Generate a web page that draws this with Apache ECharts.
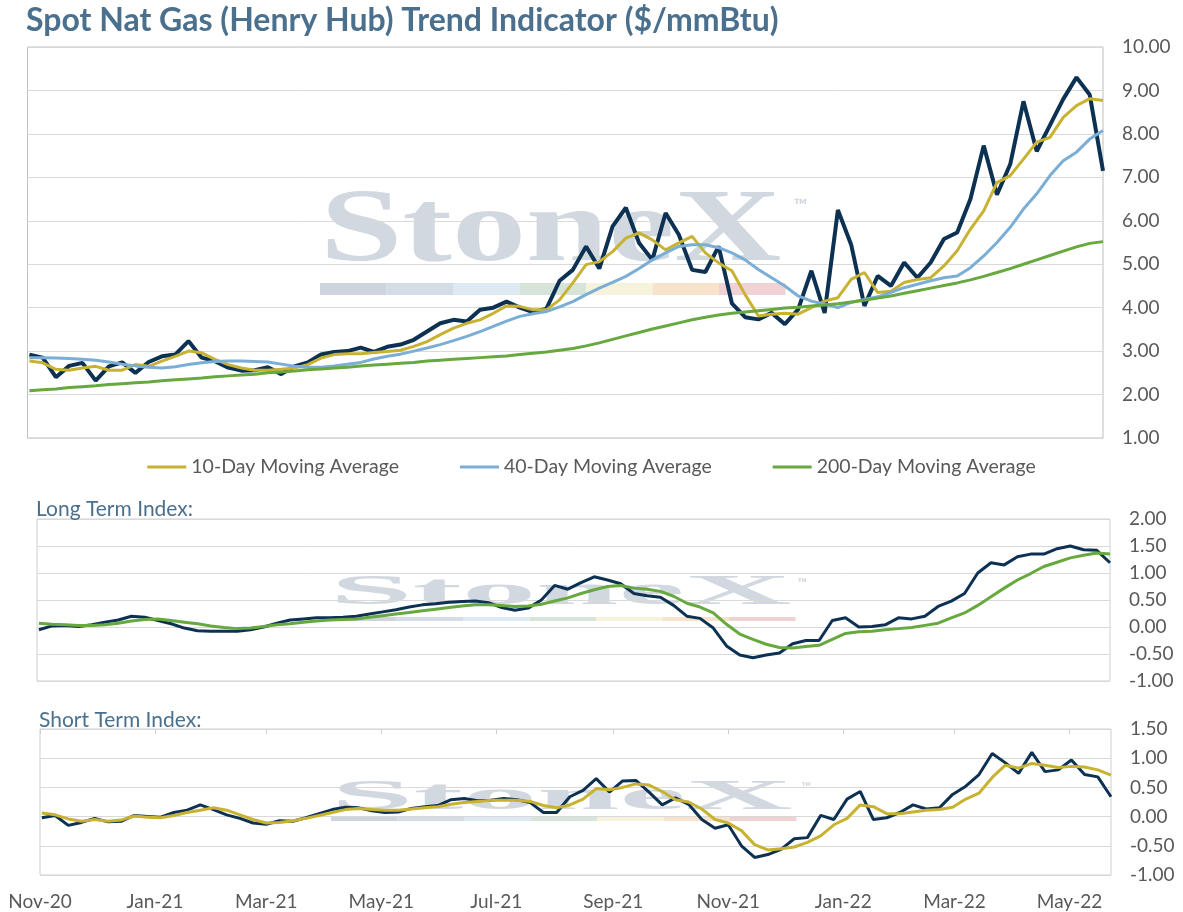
<!DOCTYPE html>
<html>
<head>
<meta charset="utf-8">
<title>Spot Nat Gas Trend Indicator</title>
<script src="https://cdn.jsdelivr.net/npm/echarts@6/dist/echarts.min.js"></script>
<style>
  html, body { margin: 0; padding: 0; background: #fff; }
  #chart { width: 1183px; height: 912px; }
</style>
</head>
<body>
<div id="chart"></div>
<script>
// weekly sample dates (Mondays), last point = end of data
const dates = [];
for (let k = 0; k <= 80; k++) {
  const d = new Date(2020, 10, 2 + 7 * k);
  dates.push(d.getFullYear() + '-' + String(d.getMonth() + 1).padStart(2, '0') + '-' + String(d.getDate()).padStart(2, '0'));
}
dates.push('2022-05-23');

const axisStart = '2020-11-01';
const axisEnd = '2022-05-23';
const tickDates = ['2020-11-01', '2021-01-01', '2021-03-01', '2021-05-01', '2021-07-01',
  '2021-09-01', '2021-11-01', '2022-01-01', '2022-03-01', '2022-05-01'];
const tickLabels = ['Nov-20', 'Jan-21', 'Mar-21', 'May-21', 'Jul-21',
  'Sep-21', 'Nov-21', 'Jan-22', 'Mar-22', 'May-22'];

// $/mmBtu
const spot = [2.92, 2.85, 2.40, 2.66, 2.73, 2.32, 2.65, 2.74, 2.50, 2.75,
  2.88, 2.92, 3.23, 2.85, 2.77, 2.62, 2.55, 2.56, 2.63, 2.47,
  2.65, 2.74, 2.92, 2.98, 3.00, 3.08, 2.98, 3.10, 3.15, 3.26,
  3.45, 3.64, 3.72, 3.68, 3.95, 4.00, 4.14, 4.00, 3.90, 3.97,
  4.62, 4.87, 5.41, 4.90, 5.87, 6.30, 5.49, 5.10, 6.18, 5.68,
  4.87, 4.82, 5.41, 4.10, 3.78, 3.73, 3.88, 3.62, 3.96, 4.85,
  3.88, 6.25, 5.45, 4.04, 4.73, 4.50, 5.04, 4.69, 5.04, 5.58,
  5.73, 6.50, 7.73, 6.60, 7.30, 8.75, 7.60, 8.20, 8.80, 9.30,
  8.90, 7.15];
const ma10 = [2.77, 2.73, 2.58, 2.56, 2.61, 2.65, 2.56, 2.56, 2.69, 2.65,
  2.77, 2.88, 3.00, 2.96, 2.81, 2.69, 2.61, 2.56, 2.56, 2.58,
  2.61, 2.69, 2.84, 2.92, 2.94, 2.94, 2.97, 2.99, 3.02, 3.11,
  3.22, 3.38, 3.53, 3.64, 3.72, 3.87, 4.04, 4.03, 3.95, 3.95,
  4.18, 4.57, 4.99, 5.06, 5.29, 5.60, 5.72, 5.56, 5.33, 5.49,
  5.64, 5.26, 5.03, 4.85, 4.30, 3.81, 3.85, 3.87, 3.85, 4.00,
  4.15, 4.23, 4.65, 4.81, 4.35, 4.38, 4.58, 4.65, 4.69, 4.96,
  5.31, 5.81, 6.23, 6.88, 7.04, 7.42, 7.81, 7.92, 8.38, 8.65,
  8.81, 8.77];
const ma40 = [2.85, 2.85, 2.84, 2.83, 2.81, 2.79, 2.75, 2.70, 2.66, 2.63,
  2.61, 2.64, 2.69, 2.73, 2.76, 2.77, 2.77, 2.76, 2.75, 2.70,
  2.65, 2.63, 2.63, 2.66, 2.70, 2.74, 2.82, 2.88, 2.93, 3.00,
  3.07, 3.15, 3.24, 3.34, 3.45, 3.57, 3.69, 3.80, 3.86, 3.91,
  4.02, 4.14, 4.30, 4.45, 4.58, 4.72, 4.90, 5.10, 5.26, 5.41,
  5.45, 5.45, 5.38, 5.26, 5.10, 4.88, 4.69, 4.50, 4.27, 4.15,
  4.08, 4.00, 4.12, 4.19, 4.25, 4.35, 4.46, 4.54, 4.62, 4.69,
  4.73, 4.92, 5.19, 5.50, 5.85, 6.27, 6.62, 7.04, 7.38, 7.58,
  7.88, 8.08];
const ma200 = [2.09, 2.11, 2.13, 2.16, 2.18, 2.20, 2.23, 2.25, 2.27, 2.29,
  2.32, 2.34, 2.36, 2.38, 2.41, 2.43, 2.45, 2.47, 2.50, 2.52,
  2.54, 2.57, 2.59, 2.61, 2.63, 2.66, 2.68, 2.70, 2.72, 2.74,
  2.77, 2.79, 2.81, 2.83, 2.85, 2.87, 2.89, 2.92, 2.95, 2.98,
  3.02, 3.06, 3.12, 3.19, 3.27, 3.35, 3.43, 3.51, 3.58, 3.65,
  3.72, 3.78, 3.83, 3.87, 3.90, 3.93, 3.96, 3.99, 4.01, 4.04,
  4.06, 4.09, 4.13, 4.17, 4.22, 4.27, 4.33, 4.39, 4.45, 4.51,
  4.57, 4.64, 4.72, 4.81, 4.90, 5.00, 5.10, 5.20, 5.30, 5.40,
  5.48, 5.52];

// Long Term Index
const ltiIndex = [-0.05, 0.02, 0.03, 0.01, 0.04, 0.09, 0.13, 0.20, 0.18, 0.12,
  0.06, -0.02, -0.07, -0.08, -0.08, -0.08, -0.05, 0.00, 0.07, 0.13,
  0.15, 0.17, 0.17, 0.18, 0.20, 0.24, 0.28, 0.32, 0.37, 0.41,
  0.43, 0.46, 0.47, 0.48, 0.45, 0.36, 0.31, 0.35, 0.50, 0.77,
  0.70, 0.82, 0.93, 0.87, 0.80, 0.62, 0.58, 0.55, 0.40, 0.20,
  0.16, -0.02, -0.35, -0.52, -0.57, -0.52, -0.48, -0.31, -0.25, -0.25,
  0.12, 0.17, 0.00, 0.01, 0.04, 0.17, 0.15, 0.20, 0.38, 0.48,
  0.62, 1.00, 1.19, 1.15, 1.30, 1.35, 1.35, 1.45, 1.50, 1.43,
  1.42, 1.19];
const ltiSignal = [0.07, 0.05, 0.04, 0.03, 0.03, 0.04, 0.07, 0.11, 0.14, 0.15,
  0.12, 0.09, 0.06, 0.02, -0.01, -0.03, -0.02, 0.01, 0.04, 0.06,
  0.09, 0.11, 0.13, 0.14, 0.15, 0.18, 0.21, 0.24, 0.27, 0.30,
  0.33, 0.36, 0.39, 0.41, 0.41, 0.40, 0.38, 0.39, 0.42, 0.48,
  0.54, 0.62, 0.69, 0.75, 0.77, 0.72, 0.70, 0.66, 0.57, 0.44,
  0.37, 0.26, 0.05, -0.13, -0.23, -0.32, -0.38, -0.39, -0.36, -0.34,
  -0.23, -0.12, -0.09, -0.08, -0.05, -0.03, -0.01, 0.03, 0.07, 0.17,
  0.26, 0.40, 0.56, 0.72, 0.87, 0.99, 1.12, 1.20, 1.28, 1.33,
  1.37, 1.35];

// Short Term Index
const stiIndex = [-0.02, 0.02, -0.15, -0.10, -0.03, -0.09, -0.08, 0.02, 0.00, -0.01,
  0.07, 0.11, 0.20, 0.12, 0.03, -0.03, -0.11, -0.13, -0.07, -0.08,
  -0.02, 0.05, 0.12, 0.16, 0.15, 0.10, 0.07, 0.08, 0.14, 0.17,
  0.19, 0.29, 0.31, 0.27, 0.28, 0.31, 0.29, 0.24, 0.07, 0.07,
  0.34, 0.45, 0.65, 0.42, 0.61, 0.62, 0.42, 0.20, 0.32, 0.21,
  -0.05, -0.20, -0.14, -0.50, -0.70, -0.65, -0.56, -0.38, -0.36, 0.02,
  -0.05, 0.30, 0.43, -0.05, -0.02, 0.07, 0.20, 0.13, 0.15, 0.38,
  0.52, 0.72, 1.08, 0.92, 0.74, 1.10, 0.77, 0.80, 0.97, 0.72,
  0.68, 0.34];
const stiSignal = [0.06, 0.03, -0.04, -0.08, -0.05, -0.08, -0.06, 0.01, -0.01, -0.02,
  0.02, 0.07, 0.11, 0.15, 0.11, 0.03, -0.05, -0.11, -0.10, -0.07,
  -0.03, 0.02, 0.07, 0.12, 0.14, 0.12, 0.11, 0.11, 0.13, 0.15,
  0.17, 0.21, 0.24, 0.26, 0.28, 0.28, 0.28, 0.26, 0.19, 0.15,
  0.20, 0.30, 0.48, 0.46, 0.50, 0.56, 0.54, 0.43, 0.29, 0.25,
  0.13, -0.05, -0.11, -0.24, -0.48, -0.57, -0.55, -0.52, -0.44, -0.33,
  -0.14, -0.03, 0.20, 0.17, 0.05, 0.05, 0.08, 0.11, 0.12, 0.16,
  0.30, 0.40, 0.67, 0.88, 0.83, 0.91, 0.88, 0.84, 0.86, 0.85,
  0.80, 0.71];

const NAVY = '#0c3152', GOLD = '#c8b232', BLUE = '#7aaed6', GREEN = '#67a83f';
const TXT = '#595959', HEAD = '#4b708d', GRIDC = '#d9d9d9';

function toTime(s) {
  const p = s.split('-');
  return new Date(+p[0], +p[1] - 1, +p[2]).getTime();
}
const tickTimes = tickDates.map(toTime);
const tStart = toTime(axisStart), tEnd = toTime(axisEnd);
function pairs(vals) { return dates.map((d, i) => [toTime(d), vals[i]]); }

// StoneX watermark (decoration only)
const barColors = ['#cdd4dd', '#d4dce6', '#dde9f3', '#d6e4d9', '#f6f2db', '#f7e3cb', '#f0d2d5'];
function watermark(x, bottom, sy, barY, barH, tmX, tmY, tmSize) {
  const els = [{
    type: 'text', x: x, y: bottom, scaleX: 1.44, scaleY: sy, z: -10,
    style: { text: 'StoneX', font: 'bold 103px "Liberation Serif"', fill: '#d1d8e0', verticalAlign: 'bottom' }
  }, {
    type: 'text', x: tmX, y: tmY, z: -10,
    style: { text: '™', font: 'bold ' + tmSize + 'px Lato', fill: '#cfd6df' }
  }];
  barColors.forEach((c, i) => {
    els.push({ type: 'rect', z: -10, shape: { x: x + i * 66.5, y: barY, width: 66.5, height: barH }, style: { fill: c } });
  });
  return els;
}

function yAx(grid, min, max, step, margin) {
  return {
    gridIndex: grid, type: 'value', position: 'right', min: min, max: max, interval: step,
    axisLine: { show: false }, axisTick: { show: false },
    axisLabel: { color: TXT, fontFamily: 'Lato', fontSize: 19, margin: margin, formatter: v => v.toFixed(2) },
    splitLine: { lineStyle: { color: GRIDC, width: 1 } }
  };
}
function xHidden(grid) {
  return {
    gridIndex: grid, type: 'value', min: tStart, max: tEnd,
    axisLine: { show: false }, axisTick: { show: false }, axisLabel: { show: false }, splitLine: { show: false }
  };
}

const chart = echarts.init(document.getElementById('chart'), null, { renderer: 'canvas' });
chart.setOption({
  animation: false,
  backgroundColor: '#fff',
  title: [
    { text: 'Spot Nat Gas (Henry Hub) Trend Indicator ($/mmBtu)', left: 21, top: 0,
      textStyle: { fontFamily: 'Lato', fontWeight: 'bold', fontSize: 32, color: HEAD } },
    { text: 'Long Term Index:', left: 31, top: 494,
      textStyle: { fontFamily: 'Lato', fontWeight: 'normal', fontSize: 21, color: HEAD } },
    { text: 'Short Term Index:', left: 34, top: 705,
      textStyle: { fontFamily: 'Lato', fontWeight: 'normal', fontSize: 21, color: HEAD } }
  ],
  legend: {
    top: 452, left: 'center', icon: 'rect', itemWidth: 39, itemHeight: 3, itemGap: 61,
    selectedMode: false,
    textStyle: { fontFamily: 'Lato', fontSize: 19.5, color: TXT },
    data: ['10-Day Moving Average', '40-Day Moving Average', '200-Day Moving Average']
  },
  grid: [
    { left: 27.5, right: 80, top: 47, height: 391, show: true, borderColor: '#bfbfbf', borderWidth: 1 },
    { left: 37, right: 73, top: 519, height: 162, show: true, borderColor: '#cfcfcf', borderWidth: 1 },
    { left: 40, right: 72, top: 729, height: 146, show: true, borderColor: '#cfcfcf', borderWidth: 1 }
  ],
  xAxis: [
    xHidden(0),
    xHidden(1),
    {
      gridIndex: 2, type: 'value', min: tStart, max: tEnd,
      axisLine: { show: false }, axisTick: { show: false }, splitLine: { show: false },
      axisLabel: {
        customValues: tickTimes, color: TXT, fontFamily: 'Lato', fontSize: 19, margin: 17,
        formatter: function (v) {
          let best = 0;
          tickTimes.forEach((t, i) => { if (Math.abs(t - v) < Math.abs(tickTimes[best] - v)) best = i; });
          return tickLabels[best];
        }
      }
    },
    {
      gridIndex: 2, type: 'value', position: 'top', min: tStart, max: tEnd,
      axisLine: { show: false }, splitLine: { show: false }, axisLabel: { show: false },
      axisTick: { show: true, inside: true, length: 5, customValues: tickTimes, lineStyle: { color: '#cfcfcf' } }
    }
  ],
  yAxis: [
    yAx(0, 1, 10, 1, 19),
    yAx(1, -1, 2, 0.5, 19),
    yAx(2, -1, 1.5, 0.5, 19)
  ],
  graphic: { elements: [].concat(
    watermark(320, 285, 1, 283, 12, 794, 197, 17),
    watermark(330, 614, 0.40, 617, 4, 798, 577, 12),
    watermark(331, 819, 0.40, 817, 4, 802, 781, 12)
  ) },
  series: [
    { name: 'Spot', type: 'line', xAxisIndex: 0, yAxisIndex: 0, data: pairs(spot),
      showSymbol: false, lineStyle: { color: NAVY, width: 4 }, itemStyle: { color: NAVY } },
    { name: '10-Day Moving Average', type: 'line', xAxisIndex: 0, yAxisIndex: 0, data: pairs(ma10),
      showSymbol: false, lineStyle: { color: GOLD, width: 3 }, itemStyle: { color: GOLD } },
    { name: '40-Day Moving Average', type: 'line', xAxisIndex: 0, yAxisIndex: 0, data: pairs(ma40),
      showSymbol: false, lineStyle: { color: BLUE, width: 3 }, itemStyle: { color: BLUE } },
    { name: '200-Day Moving Average', type: 'line', xAxisIndex: 0, yAxisIndex: 0, data: pairs(ma200),
      showSymbol: false, lineStyle: { color: GREEN, width: 3 }, itemStyle: { color: GREEN } },
    { name: 'LTI', type: 'line', xAxisIndex: 1, yAxisIndex: 1, data: pairs(ltiIndex),
      showSymbol: false, lineStyle: { color: NAVY, width: 3 } },
    { name: 'LTI Signal', type: 'line', xAxisIndex: 1, yAxisIndex: 1, data: pairs(ltiSignal),
      showSymbol: false, lineStyle: { color: GREEN, width: 3 } },
    { name: 'STI', type: 'line', xAxisIndex: 2, yAxisIndex: 2, data: pairs(stiIndex),
      showSymbol: false, lineStyle: { color: NAVY, width: 3 } },
    { name: 'STI Signal', type: 'line', xAxisIndex: 2, yAxisIndex: 2, data: pairs(stiSignal),
      showSymbol: false, lineStyle: { color: GOLD, width: 3 } }
  ]
});
</script>
</body>
</html>
